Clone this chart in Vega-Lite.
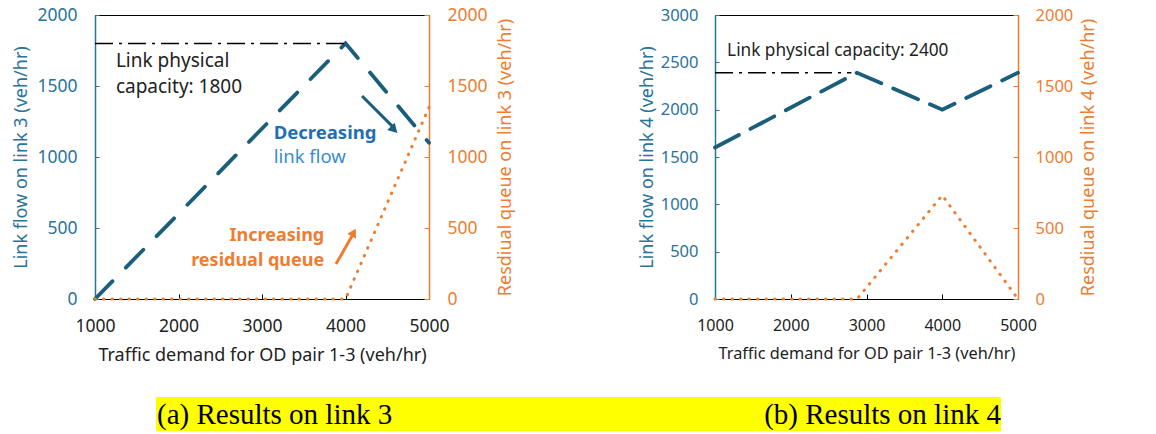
{
  "$schema": "https://vega.github.io/schema/vega-lite/v6.json",
  "padding": {"left": 12, "top": 5, "right": 5, "bottom": 2},
  "background": "white",
  "config": {
    "font": "Noto Sans",
    "axis": {"grid": false, "labelFontSize": 17.5, "titleFontSize": 18, "titleFontWeight": "normal", "labelFont": "Noto Sans", "titleFont": "Noto Sans", "format": "d"},
    "view": {"stroke": "#000000", "strokeWidth": 1}
  },
  "datasets": {
    "flow3": [
      {"demand": 1000, "flow": 0},
      {"demand": 4000, "flow": 1800},
      {"demand": 5000, "flow": 1100}
    ],
    "cap3": [
      {"demand": 1000, "flow": 1800},
      {"demand": 4000, "flow": 1800}
    ],
    "queue3": [
      {"demand": 1000, "queue": 0},
      {"demand": 4000, "queue": 0},
      {"demand": 5000, "queue": 1350}
    ],
    "flow4": [
      {"demand": 1000, "flow": 1600},
      {"demand": 2875, "flow": 2390},
      {"demand": 4000, "flow": 2000},
      {"demand": 5000, "flow": 2390}
    ],
    "cap4": [
      {"demand": 1000, "flow": 2390},
      {"demand": 2800, "flow": 2390}
    ],
    "queue4": [
      {"demand": 1000, "queue": 0},
      {"demand": 2875, "queue": 0},
      {"demand": 4000, "queue": 730},
      {"demand": 5000, "queue": 0}
    ]
  },
  "vconcat": [
    {
      "hconcat": [
        {
          "width": 334,
          "height": 284,
          "layer": [
            {
              "layer": [
                {
                  "data": {"name": "flow3"},
                  "mark": {"type": "line", "color": "#1b5e7b", "strokeWidth": 3.8, "strokeDash": [25, 19], "strokeCap": "round"},
                  "encoding": {
                    "x": {"field": "demand", "type": "quantitative", "scale": {"domain": [1000, 5000]},
                      "axis": {"values": [1000, 2000, 3000, 4000, 5000], "format": "d", "title": "Traffic demand for OD pair 1-3 (veh/hr)", "domainColor": "#000000", "tickColor": "#000000", "tickSize": -5, "labelPadding": 23, "labelColor": "#222222", "titleColor": "#222222", "titlePadding": 12, "labelFlush": false}},
                    "y": {"field": "flow", "type": "quantitative", "scale": {"domain": [0, 2000]},
                      "axis": {"values": [0, 500, 1000, 1500, 2000], "format": "d", "title": "Link flow on link 3 (veh/hr)", "domainColor": "#2a7399", "domainWidth": 1.5, "tickColor": "#2a7399", "tickSize": -4, "labelPadding": 22, "labelColor": "#2a7399", "titleColor": "#2a7399", "titlePadding": 6}}
                  }
                },
                {
                  "data": {"name": "cap3"},
                  "mark": {"type": "line", "color": "#000000", "strokeWidth": 1.5, "strokeDash": [18, 6, 3, 6]},
                  "encoding": {
                    "x": {"field": "demand", "type": "quantitative"},
                    "y": {"field": "flow", "type": "quantitative"}
                  }
                },
                {
                  "data": {"values": [
                    {"demand": 1250, "flow": 1675, "label": "Link physical"},
                    {"demand": 1250, "flow": 1495, "label": "capacity: 1800"}
                  ]},
                  "mark": {"type": "text", "align": "left", "baseline": "middle", "fontSize": 19, "color": "#222222"},
                  "encoding": {
                    "x": {"field": "demand", "type": "quantitative"},
                    "y": {"field": "flow", "type": "quantitative"},
                    "text": {"field": "label"}
                  }
                },
                {
                  "data": {"values": [{"demand": 3140, "flow": 1169, "label": "Decreasing"}]},
                  "mark": {"type": "text", "align": "left", "baseline": "middle", "fontSize": 18.5, "fontWeight": "bold", "color": "#1f6fb2"},
                  "encoding": {
                    "x": {"field": "demand", "type": "quantitative"},
                    "y": {"field": "flow", "type": "quantitative"},
                    "text": {"field": "label"}
                  }
                },
                {
                  "data": {"values": [{"demand": 3140, "flow": 1000, "label": "link flow"}]},
                  "mark": {"type": "text", "align": "left", "baseline": "middle", "fontSize": 18.5, "color": "#3a8ccc"},
                  "encoding": {
                    "x": {"field": "demand", "type": "quantitative"},
                    "y": {"field": "flow", "type": "quantitative"},
                    "text": {"field": "label"}
                  }
                },
                {
                  "data": {"values": [{"demand": 4198, "flow": 1430, "demand2": 4580, "flow2": 1205}]},
                  "mark": {"type": "rule", "color": "#1b5e7b", "strokeWidth": 3},
                  "encoding": {
                    "x": {"field": "demand", "type": "quantitative"},
                    "y": {"field": "flow", "type": "quantitative"},
                    "x2": {"field": "demand2"},
                    "y2": {"field": "flow2"}
                  }
                },
                {
                  "data": {"values": [{"demand": 4570, "flow": 1200}]},
                  "mark": {"type": "point", "shape": "triangle", "filled": true, "opacity": 1, "color": "#1b5e7b", "size": 110, "angle": 136},
                  "encoding": {
                    "x": {"field": "demand", "type": "quantitative"},
                    "y": {"field": "flow", "type": "quantitative"}
                  }
                }
              ]
            },
            {
              "layer": [
                {
                  "data": {"name": "queue3"},
                  "mark": {"type": "line", "color": "#ed7d31", "strokeWidth": 3, "strokeDash": [0.5, 8], "strokeCap": "round"},
                  "encoding": {
                    "x": {"field": "demand", "type": "quantitative"},
                    "y": {"field": "queue", "type": "quantitative", "scale": {"domain": [0, 2000]},
                      "axis": {"orient": "right", "values": [0, 500, 1000, 1500, 2000], "format": "d", "title": "Resdiual queue on link 3 (veh/hr)", "titleAngle": -90, "domainColor": "#ed7d31", "domainWidth": 1.5, "tickColor": "#ed7d31", "tickSize": -5, "labelPadding": 23, "labelColor": "#ed7d31", "titleColor": "#ed7d31", "titlePadding": 27}}
                  }
                },
                {
                  "data": {"values": [
                    {"demand": 3745, "queue": 444, "label": "Increasing"},
                    {"demand": 3745, "queue": 268, "label": "residual queue"}
                  ]},
                  "mark": {"type": "text", "align": "right", "baseline": "middle", "fontSize": 18, "fontWeight": "bold", "color": "#ed7d31"},
                  "encoding": {
                    "x": {"field": "demand", "type": "quantitative"},
                    "y": {"field": "queue", "type": "quantitative"},
                    "text": {"field": "label"}
                  }
                },
                {
                  "data": {"values": [{"demand": 3886, "queue": 246, "demand2": 4085, "queue2": 450}]},
                  "mark": {"type": "rule", "color": "#ed7d31", "strokeWidth": 3},
                  "encoding": {
                    "x": {"field": "demand", "type": "quantitative"},
                    "y": {"field": "queue", "type": "quantitative"},
                    "x2": {"field": "demand2"},
                    "y2": {"field": "queue2"}
                  }
                },
                {
                  "data": {"values": [{"demand": 4090, "queue": 460}]},
                  "mark": {"type": "point", "shape": "triangle", "filled": true, "opacity": 1, "color": "#ed7d31", "size": 100, "angle": 29},
                  "encoding": {
                    "x": {"field": "demand", "type": "quantitative"},
                    "y": {"field": "queue", "type": "quantitative"}
                  }
                }
              ]
            }
          ],
          "resolve": {"scale": {"y": "independent"}}
        },
        {
          "width": 303,
          "height": 284,
          "layer": [
            {
              "layer": [
                {
                  "data": {"name": "flow4"},
                  "mark": {"type": "line", "color": "#1b5e7b", "strokeWidth": 3.8, "strokeDash": [27, 13], "strokeCap": "round"},
                  "encoding": {
                    "x": {"field": "demand", "type": "quantitative", "scale": {"domain": [1000, 5000]},
                      "axis": {"values": [1000, 2000, 3000, 4000, 5000], "format": "d", "title": "Traffic demand for OD pair 1-3 (veh/hr)", "domainColor": "#000000", "tickColor": "#000000", "tickSize": -5, "labelPadding": 23, "labelFontSize": 16, "titleFontSize": 16.3, "labelColor": "#222222", "titleColor": "#222222", "titlePadding": 12, "labelFlush": false}},
                    "y": {"field": "flow", "type": "quantitative", "scale": {"domain": [0, 3000]},
                      "axis": {"values": [0, 500, 1000, 1500, 2000, 2500, 3000], "format": "d", "title": "Link flow on link 4 (veh/hr)", "domainColor": "#2a7399", "domainWidth": 1.5, "tickColor": "#2a7399", "tickSize": -4, "labelPadding": 21, "labelFontSize": 16.5, "labelColor": "#2a7399", "titleColor": "#2a7399", "titlePadding": 4}}
                  }
                },
                {
                  "data": {"name": "cap4"},
                  "mark": {"type": "line", "color": "#000000", "strokeWidth": 1.5, "strokeDash": [18, 6, 3, 6]},
                  "encoding": {
                    "x": {"field": "demand", "type": "quantitative"},
                    "y": {"field": "flow", "type": "quantitative"}
                  }
                },
                {
                  "data": {"values": [{"demand": 1160, "flow": 2620, "label": "Link physical capacity: 2400"}]},
                  "mark": {"type": "text", "align": "left", "baseline": "middle", "fontSize": 17.2, "color": "#222222"},
                  "encoding": {
                    "x": {"field": "demand", "type": "quantitative"},
                    "y": {"field": "flow", "type": "quantitative"},
                    "text": {"field": "label"}
                  }
                }
              ]
            },
            {
              "layer": [
                {
                  "data": {"name": "queue4"},
                  "mark": {"type": "line", "color": "#ed7d31", "strokeWidth": 3, "strokeDash": [0.5, 8], "strokeCap": "round"},
                  "encoding": {
                    "x": {"field": "demand", "type": "quantitative"},
                    "y": {"field": "queue", "type": "quantitative", "scale": {"domain": [0, 2000]},
                      "axis": {"orient": "right", "values": [0, 500, 1000, 1500, 2000], "format": "d", "title": "Resdiual queue on link 4 (veh/hr)", "titleAngle": -90, "domainColor": "#ed7d31", "domainWidth": 1.5, "tickColor": "#ed7d31", "tickSize": -5, "labelPadding": 22, "labelFontSize": 16.5, "labelColor": "#ed7d31", "titleColor": "#ed7d31", "titlePadding": 25}}
                  }
                }
              ]
            }
          ],
          "resolve": {"scale": {"y": "independent"}}
        }
      ],
      "spacing": 122
    },
    {
      "hconcat": [
        {
          "width": 1,
          "height": 34,
          "view": {"stroke": null},
          "data": {"values": []},
          "mark": "text"
        },
        {
          "width": 845,
          "height": 34,
          "view": {"fill": "#ffff00", "stroke": null},
          "data": {"values": [
            {"pos": 0, "caption": "(a) Results on link 3"},
            {"pos": 1, "caption": "(b) Results on link 4"}
          ]},
          "encoding": {
            "x": {"field": "pos", "type": "quantitative", "scale": {"domain": [0, 1]}, "axis": null},
            "text": {"field": "caption"}
          },
          "layer": [
            {
              "transform": [{"filter": "datum.pos == 0"}],
              "mark": {"type": "text", "align": "left", "baseline": "middle", "font": "Liberation Serif", "fontSize": 29, "color": "#000000", "dx": 1, "dy": 1}
            },
            {
              "transform": [{"filter": "datum.pos == 1"}],
              "mark": {"type": "text", "align": "right", "baseline": "middle", "font": "Liberation Serif", "fontSize": 29, "color": "#000000", "dy": 1}
            }
          ]
        }
      ],
      "spacing": 60
    }
  ],
  "spacing": 32
}
